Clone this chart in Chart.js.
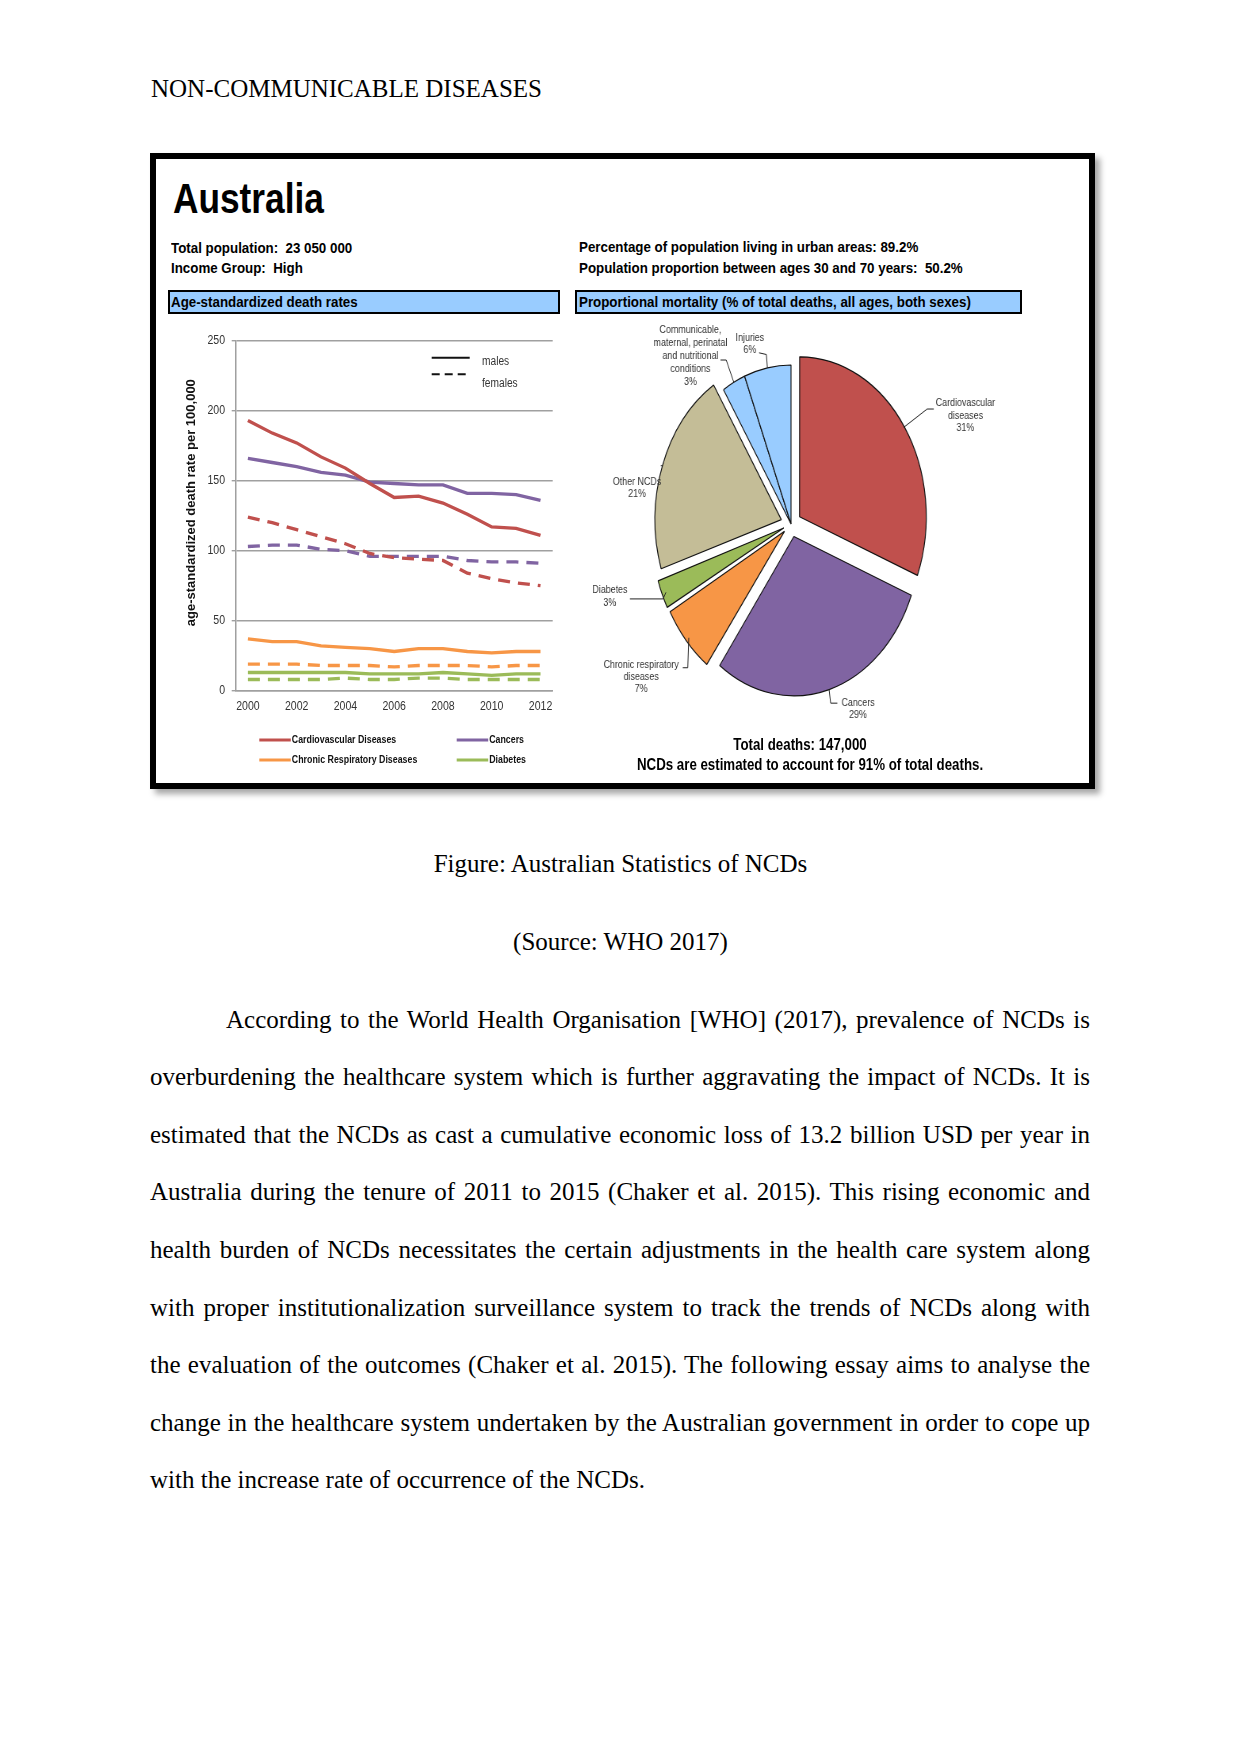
<!DOCTYPE html>
<html>
<head>
<meta charset="utf-8">
<script src="https://cdn.jsdelivr.net/npm/chart.js@4.4.0/dist/chart.umd.min.js"></script>
<style>
  html, body { margin: 0; padding: 0; background: #fff; }
  body { width: 1241px; height: 1754px; position: relative; overflow: hidden; font-family: 'Liberation Serif', 'Times New Roman', serif; color: #000; }
  .serif { position: absolute; font-size: 25px; line-height: 25px; white-space: nowrap; }
  .para { position: absolute; left: 150px; width: 940px; font-size: 25px; line-height: 25px; text-align: justify; text-align-last: justify; white-space: nowrap; }
  .para.last { text-align-last: left; }
  #frame { position: absolute; left: 150px; top: 153px; width: 945px; height: 636px; box-sizing: border-box; border: 6px solid #000; background: #fff; box-shadow: 5px 5px 6px rgba(0,0,0,.35); }
  .nar { position: absolute; font-family: 'Liberation Sans', Arial, sans-serif; font-weight: bold; white-space: pre; line-height: 1; transform-origin: 0 50%; }
  .nar.mid { transform-origin: 50% 50%; }
  .bar { position: absolute; box-sizing: border-box; border: 2px solid #000; background: #99ccff; }
  #lineBox { position: absolute; left: 180px; top: 330px; width: 390px; height: 445px; }
  #pieBox { position: absolute; left: 490.7px; top: 304.4px; width: 600px; height: 440px; transform: scaleX(0.7925); transform-origin: 50% 50%; }
</style>
</head>
<body>

<div class="serif" style="left:151px; top:76.4px;">NON-COMMUNICABLE DISEASES</div>

<div id="frame"></div>

<div class="nar" style="left:173px; top:176.9px; font-size:43px; transform:scaleX(0.82);">Australia</div>
<div class="nar" style="left:171px; top:239.6px; font-size:15.5px; transform:scaleX(0.86);">Total population:  23 050 000</div>
<div class="nar" style="left:171px; top:259.6px; font-size:15.5px; transform:scaleX(0.86);">Income Group:  High</div>
<div class="nar" style="left:578.6px; top:239.4px; font-size:15.5px; transform:scaleX(0.86);">Percentage of population living in urban areas: 89.2%</div>
<div class="nar" style="left:578.6px; top:260.4px; font-size:15.5px; transform:scaleX(0.86);">Population proportion between ages 30 and 70 years:  50.2%</div>

<div class="bar" style="left:168px; top:290px; width:392px; height:24px;"></div>
<div class="nar" style="left:171px; top:293.6px; font-size:15.5px; transform:scaleX(0.86);">Age-standardized death rates</div>
<div class="bar" style="left:575px; top:290px; width:447px; height:24px;"></div>
<div class="nar" style="left:578.6px; top:293.6px; font-size:15.5px; transform:scaleX(0.86);">Proportional mortality (% of total deaths, all ages, both sexes)</div>

<div id="lineBox"><canvas id="lineChart"></canvas></div>
<div id="pieBox"><canvas id="pieChart"></canvas></div>

<div class="nar mid" style="left:600px; width:400px; text-align:center; top:737.2px; font-size:16px; transform:scaleX(0.83);">Total deaths: 147,000</div>
<div class="nar mid" style="left:603px; width:400px; text-align:center; top:756.5px; font-size:16px; transform:scaleX(0.83);">NCDs are estimated to account for 91% of total deaths.</div>

<div class="serif" style="left:0; width:1241px; text-align:center; top:851px;">Figure: Australian Statistics of NCDs</div>
<div class="serif" style="left:0; width:1241px; text-align:center; top:929px;">(Source: WHO 2017)</div>

<div id="text"></div>

<script>
// ---- line chart data (age-standardized death rate per 100,000) ----
const years = ['2000', '2001', '2002', '2003', '2004', '2005', '2006',
  '2007', '2008', '2009', '2010', '2011', '2012'];

const cvd_males = [193, 184, 177, 167, 159, 148, 138, 139, 134, 126, 117, 116, 111];
const cvd_females = [124, 120, 115, 110, 105, 98, 95, 94, 93, 84, 80, 77, 75];
const cancer_males = [166, 163, 160, 156, 154, 149, 148, 147, 147, 141, 141, 140, 136];
const cancer_females = [103, 104, 104, 101, 100, 96, 96, 96, 96, 93, 92, 92, 91];
const crd_males = [37, 35, 35, 32, 31, 30, 28, 30, 30, 28, 27, 28, 28];
const crd_females = [19, 19, 19, 18, 18, 18, 17, 18, 18, 18, 17, 18, 18];
const diab_males = [13, 13, 13, 13, 13, 12, 12, 12, 13, 12, 11, 12, 12];
const diab_females = [8, 8, 8, 8, 9, 8, 8, 9, 9, 8, 8, 8, 8];

const disease_names = ['Cardiovascular Diseases', 'Cancers', 'Chronic Respiratory Diseases', 'Diabetes'];
const disease_colors = ['#c0504d', '#8064a2', '#f79646', '#9bbb59'];
const y_ticks = [0, 50, 100, 150, 200, 250];
const y_title = 'age-standardized death rate per 100,000';

// ---- pie data (proportional mortality, %) ----
const cause_labels = [
  ['Cardiovascular', 'diseases', '31%'],
  ['Cancers', '29%'],
  ['Chronic respiratory', 'diseases', '7%'],
  ['Diabetes', '3%'],
  ['Other NCDs', '21%'],
  ['Communicable,', 'maternal, perinatal', 'and nutritional', 'conditions', '3%'],
  ['Injuries', '6%'],
];
const cause_shares = [31, 29, 7, 3, 21, 3, 6];
const cause_colors = ['#c0504d', '#8064a2', '#f79646', '#9bbb59', '#c4bd97', '#99ccff', '#99ccff'];
const cause_exploded = [true, true, true, true, true, false, false];

// body text, one entry per printed line
const para_lines = [
  'According to the World Health Organisation [WHO] (2017), prevalence of NCDs is',
  'overburdening the healthcare system which is further aggravating the impact of NCDs. It is',
  'estimated that the NCDs as cast a cumulative economic loss of 13.2 billion USD per year in',
  'Australia during the tenure of 2011 to 2015 (Chaker et al. 2015). This rising economic and',
  'health burden of NCDs necessitates the certain adjustments in the health care system along',
  'with proper institutionalization surveillance system to track the trends of NCDs along with',
  'the evaluation of the outcomes (Chaker et al. 2015). The following essay aims to analyse the',
  'change in the healthcare system undertaken by the Australian government in order to cope up',
  'with the increase rate of occurrence of the NCDs.',
];

const text_box = document.getElementById('text');
para_lines.forEach((line, i) => {
  const div = document.createElement('div');
  div.className = 'para' + (i === para_lines.length - 1 ? ' last' : '');
  div.textContent = line;
  div.style.top = (1006.5 + i * 57.6) + 'px';
  if (i === 0) { div.style.left = '226px'; div.style.width = '864px'; }
  text_box.appendChild(div);
});

const sans = "'Liberation Sans', Arial, sans-serif";
Chart.defaults.font.family = sans;
Chart.defaults.color = '#333';

// no narrow face installed: squeeze the text horizontally instead
const narrow_text = (ctx, text, x, y, squeeze) => {
  ctx.save();
  ctx.translate(x, y);
  ctx.scale(squeeze, 1);
  ctx.fillText(text, 0, 0);
  ctx.restore();
};

// ---- line chart ----
const series = [
  [cvd_males, cvd_females],
  [cancer_males, cancer_females],
  [crd_males, crd_females],
  [diab_males, diab_females],
];

const datasets = [];
series.forEach(([m, f], i) => {
  datasets.push({
    label: disease_names[i] + ' (males)',
    data: m,
    borderColor: disease_colors[i],
    borderWidth: 3.3,
    pointRadius: 0,
    tension: 0,
  });
  datasets.push({
    label: disease_names[i] + ' (females)',
    data: f,
    borderColor: disease_colors[i],
    borderWidth: 3.3,
    borderDash: [12, 8],
    pointRadius: 0,
    tension: 0,
  });
});

const line_extras = {
  id: 'line_extras',
  afterDraw(chart) {
    const { ctx, chartArea: a, scales } = chart;
    ctx.save();

    // tick labels
    ctx.fillStyle = '#333';
    ctx.font = '12px ' + sans;
    ctx.textBaseline = 'middle';
    ctx.textAlign = 'right';
    scales.y.ticks.forEach(t => {
      narrow_text(ctx, String(t.value), a.left - 10.7, scales.y.getPixelForValue(t.value), 0.88);
    });
    ctx.textAlign = 'center';
    years.forEach((yr, i) => {
      if (i % 2 === 0) narrow_text(ctx, yr, scales.x.getPixelForTick(i), a.bottom + 16, 0.88);
    });

    // axis title
    ctx.save();
    ctx.translate(a.left - 44.7, (a.top + a.bottom) / 2 - 13);
    ctx.rotate(-Math.PI / 2);
    ctx.font = 'bold 13px ' + sans;
    ctx.fillStyle = '#111';
    ctx.fillText(y_title, 0, 0);
    ctx.restore();

    // males / females key
    ctx.strokeStyle = '#111';
    ctx.lineWidth = 2;
    ctx.beginPath();
    ctx.moveTo(a.right - 121, a.top + 17);
    ctx.lineTo(a.right - 83, a.top + 17);
    ctx.stroke();
    ctx.setLineDash([8, 5]);
    ctx.beginPath();
    ctx.moveTo(a.right - 121, a.top + 33.6);
    ctx.lineTo(a.right - 83, a.top + 33.6);
    ctx.stroke();
    ctx.setLineDash([]);
    ctx.fillStyle = '#333';
    ctx.font = '12px ' + sans;
    ctx.textAlign = 'left';
    narrow_text(ctx, 'males', a.right - 70.7, a.top + 21, 0.85);
    narrow_text(ctx, 'females', a.right - 70.7, a.top + 42.6, 0.85);

    // disease legend
    ctx.font = 'bold 10.5px ' + sans;
    ctx.fillStyle = '#111';
    ctx.lineWidth = 3;
    disease_names.forEach((name, i) => {
      const col = i % 2 === 0 ? 23.6 : 221;
      const row = a.bottom + (i < 2 ? 49.3 : 69.3);
      ctx.strokeStyle = disease_colors[i];
      ctx.beginPath();
      ctx.moveTo(a.left + col, row);
      ctx.lineTo(a.left + col + 31.5, row);
      ctx.stroke();
      narrow_text(ctx, name, a.left + col + 32.5, row, 0.84);
    });
    ctx.restore();
  }
};

new Chart('lineChart', {
  type: 'line',
  data: { labels: years, datasets: datasets },
  options: {
    responsive: true,
    maintainAspectRatio: false,
    animation: false,
    events: [],
    layout: { padding: { top: 10.7, right: 17.3, left: 0, bottom: 0 } },
    plugins: { legend: { display: false }, tooltip: { enabled: false } },
    scales: {
      x: {
        offset: true,
        grid: { display: false, drawTicks: false },
        border: { display: true, color: '#a0a0a0', width: 1.5 },
        ticks: { display: false, autoSkip: false },
        afterFit: (scale) => { scale.height = 84.3; },
      },
      y: {
        min: 0,
        max: 250,
        afterBuildTicks: (scale) => { scale.ticks = y_ticks.map(v => ({ value: v })); },
        grid: { color: '#a0a0a0', lineWidth: 1.4, tickLength: 4 },
        border: { display: true, color: '#a0a0a0', width: 1.5 },
        ticks: { display: false },
        afterFit: (scale) => { scale.width = 55.7; },
      },
    },
  },
  plugins: [line_extras],
});

// ---- pie chart ----
const SX = 0.7925;      // horizontal squash of the pie box (css)
const EXPLODE_PX = 13;  // visible shift of the exploded slices
// arc offset option per slice; the thin slices get less since chart.js also grows their radius
const explode_offsets = [52, 52, 44, 40, 52, 0, 0];

// leader line and text placement, page px relative to the point where the leader meets the slice
const label_layout = [
  { path: [[23.4, -18.3], [30, -18.3]], tx: 61.7, ty: -24, lh: 12.5 },
  { path: [[1.6, 14], [8.3, 14]], tx: 29, ty: 14.1, lh: 11.7 },
  { path: [[-1, 30], [-6, 30]], tx: -47.6, ty: 27.7, lh: 12 },
  { path: [[-2.7, 6.6], [-36, 6.6]], tx: -56, ty: -2.3, lh: 13 },
  { path: [[-2, 0]], tx: -25.7, ty: 16.2, lh: 11.6 },
  { path: [[-7.6, -22.3], [-13.3, -22.3]], tx: -43.3, ty: -52.2, lh: 13 },
  { path: [[-1, -13.3], [-8.3, -15]], tx: -17.5, ty: -29.7, lh: 12 },
];

const pie_labels = {
  id: 'pie_labels',
  afterDatasetsDraw(chart) {
    const ctx = chart.ctx;
    const meta = chart.getDatasetMeta(0);
    meta.data.forEach((arc, i) => {
      const p = arc.getProps(['x', 'y', 'startAngle', 'endAngle', 'outerRadius'], true);
      const mid = (p.startAngle + p.endAngle) / 2;
      const r = p.outerRadius + (cause_exploded[i] ? EXPLODE_PX : 0);
      const tx = p.x + Math.cos(mid) * r;
      const ty = p.y + Math.sin(mid) * r;
      const lay = label_layout[i];
      ctx.save();
      ctx.strokeStyle = '#222';
      ctx.lineWidth = 1;
      ctx.beginPath();
      ctx.moveTo(tx, ty);
      lay.path.forEach(([dx, dy]) => ctx.lineTo(tx + dx / SX, ty + dy));
      ctx.stroke();
      ctx.font = '11px ' + sans;
      ctx.fillStyle = '#333';
      ctx.textAlign = 'center';
      ctx.textBaseline = 'middle';
      cause_labels[i].forEach((line, k) => {
        narrow_text(ctx, line, tx + lay.tx / SX, ty + lay.ty + k * lay.lh, 0.81 / SX);
      });
      ctx.restore();
    });
  }
};

new Chart('pieChart', {
  type: 'pie',
  data: {
    labels: cause_labels.map(l => l.join(' ')),
    datasets: [{
      data: cause_shares,
      backgroundColor: cause_colors,
      borderColor: '#111',
      borderWidth: 1.2,
      offset: explode_offsets,
    }],
  },
  options: {
    responsive: true,
    maintainAspectRatio: false,
    animation: false,
    events: [],
    radius: 159,
    layout: { padding: 0 },
    plugins: { legend: { display: false }, tooltip: { enabled: false } },
  },
  plugins: [pie_labels],
});
</script>
</body>
</html>
